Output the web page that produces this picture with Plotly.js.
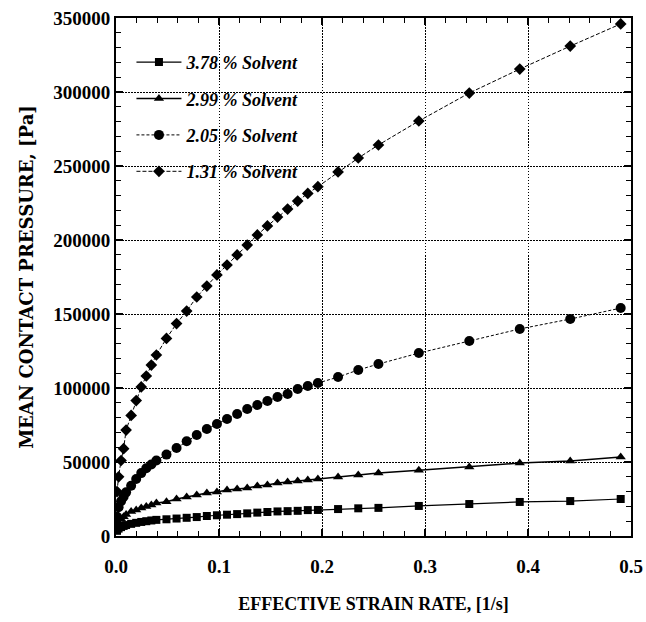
<!DOCTYPE html>
<html>
<head>
<meta charset="utf-8">
<script src="https://cdn.plot.ly/plotly-3.0.1.min.js"></script>
<style>html,body{margin:0;padding:0;background:#fff;}#chart{width:646px;height:622px;}</style>
</head>
<body>
<div id="chart"></div>
<script>
// Effective strain rate [1/s]
const strainRate = [0.001, 0.0025, 0.0049, 0.0074, 0.0098, 0.0147, 0.0196, 0.0245, 0.0294, 0.0343, 0.0392,
  0.049, 0.0588, 0.0686, 0.0784, 0.0882, 0.098, 0.1078, 0.1176, 0.1274, 0.1372, 0.147, 0.1568, 0.1666,
  0.1764, 0.1862, 0.196, 0.2156, 0.2352, 0.2548, 0.294, 0.343, 0.392, 0.441, 0.49];

// Mean contact pressure [Pa]
const p378 = [3500, 5000, 6000, 6800, 7400, 8200, 8900, 9500, 10000, 10500, 10900,
  11300, 11800, 12300, 12800, 13500, 14000, 14400, 14800, 15300, 15800, 16200, 16600, 16800,
  17000, 17500, 17600, 18200, 18700, 19000, 20300, 21600, 23000, 23600, 25000];
const p299 = [7000, 9500, 11500, 13000, 14500, 16500, 17500, 19000, 20000, 21000, 22300,
  23200, 25000, 26400, 27700, 29000, 29700, 31100, 31800, 32400, 33800, 34500, 35800, 36500,
  37200, 37800, 38500, 39900, 41200, 42600, 44400, 46600, 49300, 50700, 53400];
const p205 = [13000, 19500, 23500, 26500, 29500, 34000, 38500, 42500, 45800, 48300, 51000,
  55000, 59500, 64000, 68200, 72300, 75700, 79000, 82400, 85800, 88500, 91200, 93900, 96000,
  99300, 101300, 103400, 107400, 112200, 116200, 123600, 131800, 139900, 146600, 154000];
const p131 = [30000, 40000, 51000, 59000, 71600, 81500, 91500, 100700, 108100, 115500, 122300,
  133500, 143500, 152000, 161500, 168900, 176400, 183100, 189900, 196600, 203400, 209500, 215500, 220900,
  226300, 231500, 236000, 246000, 255400, 264200, 280400, 299300, 315500, 331000, 346000];

const seriesNames = ["3.78 % Solvent", "2.99 % Solvent", "2.05 % Solvent", "1.31 % Solvent"];

const serif = "'Liberation Serif', 'DejaVu Serif', serif";
const wideSerif = "'DejaVu Serif', 'Liberation Serif', serif";

function tr(y, name, sym, size, dash, lw) {
  return {
    x: strainRate, y: y, name: name, legendgroup: name,
    type: 'scatter', mode: 'lines+markers',
    line: {color: '#000', width: lw, dash: dash},
    marker: {symbol: sym, size: size, color: '#000'}
  };
}

const data = [
  tr(p378, seriesNames[0], 'square', 8, 'solid', 1.2),
  tr(p299, seriesNames[1], 'triangle-up', 9, 'solid', 1.5),
  tr(p205, seriesNames[2], 'circle', 10, '3px,2px', 1),
  tr(p131, seriesNames[3], 'diamond', 9, '4px,2px', 1)
];

const layout = {
  width: 646, height: 622,
  margin: {l: 116, r: 15, t: 18, b: 86},
  paper_bgcolor: '#fff', plot_bgcolor: '#fff',
  font: {family: serif, color: '#000'},
  showlegend: true,
  legend: {
    x: 0.03, y: 0.95, xanchor: 'left', yanchor: 'top',
    bgcolor: 'rgba(255,255,255,0)', borderwidth: 0,
    font: {family: serif, size: 18, style: 'italic', weight: 'bold', color: '#000'},
    itemwidth: 45, tracegroupgap: 10
  },
  xaxis: {
    range: [0, 0.5], dtick: 0.1, tick0: 0, tickformat: '.1f',
    showline: true, linecolor: '#000', linewidth: 2, mirror: 'ticks',
    ticks: 'inside', ticklen: 7, tickwidth: 1.5, tickcolor: '#000',
    ticklabelstandoff: 12,
    showgrid: true, gridcolor: '#000', gridwidth: 1, griddash: '1.5px,1.5px',
    zeroline: false,
    minor: {dtick: 0.02, ticks: 'inside', ticklen: 5, tickwidth: 1, tickcolor: '#000', showgrid: false},
    tickfont: {family: serif, size: 19, weight: 'bold', color: '#000'},
    title: {text: 'EFFECTIVE STRAIN RATE, [1/s]', standoff: 22,
      font: {family: serif, size: 18, weight: 'bold', color: '#000'}}
  },
  yaxis: {
    range: [0, 350000], dtick: 50000, tick0: 0, tickformat: 'd',
    showline: true, linecolor: '#000', linewidth: 2, mirror: 'ticks',
    ticks: 'inside', ticklen: 7, tickwidth: 1.5, tickcolor: '#000',
    showgrid: true, gridcolor: '#000', gridwidth: 1, griddash: '1.5px,1.5px',
    zeroline: false,
    minor: {dtick: 10000, ticks: 'inside', ticklen: 5, tickwidth: 1, tickcolor: '#000', showgrid: false},
    tickfont: {family: serif, size: 19, weight: 'bold', color: '#000'},
    title: {text: 'MEAN CONTACT PRESSURE, [Pa]', standoff: 15,
      font: {family: wideSerif, size: 18, weight: 'bold', color: '#000'}}
  }
};

Plotly.newPlot('chart', data, layout, {displayModeBar: false, staticPlot: true});
</script>
</body>
</html>
